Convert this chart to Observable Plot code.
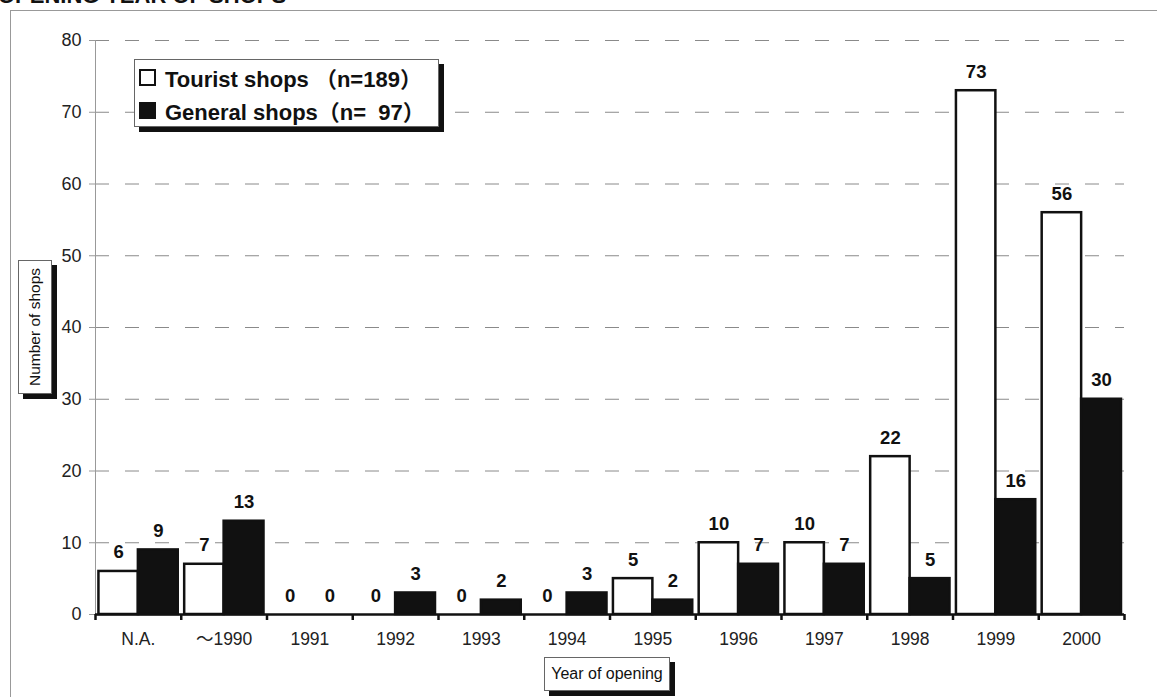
<!DOCTYPE html>
<html>
<head>
<meta charset="utf-8">
<script src="https://cdn.jsdelivr.net/npm/d3@7"></script>
<script src="https://cdn.jsdelivr.net/npm/@observablehq/plot@0.6"></script>
<style>
  body { margin: 0; background: #fff; font-family: "Liberation Sans", Arial, sans-serif; }
  #wrap { position: relative; width: 1157px; height: 697px; overflow: hidden; background: #fff; }
  #title { position: absolute; left: -2px; top: -17px; font: bold 22px "Liberation Sans", Arial, sans-serif; color: #111; }
  #frame { position: absolute; left: 10px; top: 10px; width: 1170px; height: 720px; border: 1px solid #999; box-sizing: border-box; }
  #chart { position: absolute; left: 0; top: 0; }
  .box { position: absolute; background: #fff; border: 1px solid #666; box-shadow: 5px 5px 0 #111; box-sizing: border-box; color: #111; }
  #legend { left: 134px; top: 59px; width: 305px; height: 68px; font: bold 22px "Liberation Sans", Arial, "Noto Sans CJK JP", sans-serif; }
  .item { position: absolute; left: 4px; height: 30px; display: flex; align-items: center; white-space: pre; }
  .sw { width: 17px; height: 17px; box-sizing: border-box; border: 2.5px solid #111; margin-right: 9px; }
  #ylab { left: 18px; top: 260px; width: 34px; height: 134px; font: 15.5px "Liberation Sans", Arial, sans-serif; }
  #ylab span { position: absolute; left: 50%; top: 50%; transform: translate(-50%, -50%) rotate(-90deg); white-space: nowrap; }
  #xlab { left: 544px; top: 657px; width: 126px; height: 34px; font: 16px "Liberation Sans", Arial, sans-serif; display: flex; align-items: center; justify-content: center; }
</style>
</head>
<body>
<div id="wrap">
  <div id="title">OPENING YEAR OF SHOPS</div>
  <div id="frame"></div>
  <div id="chart"></div>
  <div id="legend" class="box">
    <div class="item" style="top:2px"><div class="sw" style="background:#fff"></div><span id="lt"></span></div>
    <div class="item" style="top:35px"><div class="sw" style="background:#111"></div><span id="lg"></span></div>
  </div>
  <div id="ylab" class="box"><span>Number of shops</span></div>
  <div id="xlab" class="box">Year of opening</div>
</div>
<script>
const years = ["N.A.", "～1990", "1991", "1992", "1993", "1994", "1995", "1996", "1997", "1998", "1999", "2000"];
const tourist = [6, 7, 0, 0, 0, 0, 5, 10, 10, 22, 73, 56];
const general = [9, 13, 0, 3, 2, 3, 2, 7, 7, 5, 16, 30];
const seriesNames = ["Tourist shops", "General shops"];
const seriesN = [189, 97];
const yTicks = [0, 10, 20, 30, 40, 50, 60, 70, 80];

document.getElementById("lt").textContent = seriesNames[0] + " （n=" + seriesN[0] + "）";
document.getElementById("lg").textContent = seriesNames[1] + "（n=  " + seriesN[1] + "）";

const rows = [];
years.forEach((yr, i) => {
  rows.push({i, year: yr, series: seriesNames[0], value: tourist[i], x1: i + 0.04, x2: i + 0.5});
  rows.push({i, year: yr, series: seriesNames[1], value: general[i], x1: i + 0.5, x2: i + 0.965});
});

const centers = years.map((_, i) => i + 0.5);
const bounds = d3.range(years.length + 1);

const chart = Plot.plot({
  width: 1157,
  height: 697,
  marginLeft: 95,
  marginRight: 33,
  marginTop: 40,
  marginBottom: 83,
  style: {fontFamily: "'Liberation Sans', Arial, 'Noto Sans CJK JP', sans-serif", color: "#111", background: "transparent"},
  x: {type: "linear", domain: [0, years.length], axis: null},
  y: {domain: [0, 80], axis: null},
  marks: [
    Plot.gridY(yTicks.filter(d => d > 0), {stroke: "#8a8a8a", strokeOpacity: 1, strokeWidth: 1, strokeDasharray: "14,16"}),
    Plot.ruleX([0], {y1: 0, y2: 80, stroke: "#999", strokeWidth: 1}),
    Plot.axisY(yTicks, {tickSize: 6, tickPadding: 8, stroke: "#999", fontSize: 18, fill: "#222", label: null}),
    Plot.rectY(rows, {
      x1: "x1", x2: "x2", y: "value",
      fill: d => d.series === seriesNames[0] ? "#fff" : "#111",
      stroke: "#111", strokeWidth: 2.5
    }),
    Plot.ruleY([0], {x1: 0, x2: years.length, stroke: "#111", strokeWidth: 2.5}),
    Plot.axisX(bounds, {anchor: "bottom", tickSize: 6, tickFormat: () => "", stroke: "#111", strokeWidth: 2.5, label: null}),
    Plot.axisX(centers, {anchor: "bottom", tickSize: 0, tickPadding: 18, tickFormat: v => years[Math.floor(v)], fontSize: 17.5, fill: "#222", label: null}),
    Plot.text(rows, {
      x: d => (d.x1 + d.x2) / 2, y: "value", text: d => String(d.value),
      lineAnchor: "bottom", dy: -13, fontSize: 18.5, fontWeight: "bold", fill: "#111"
    })
  ]
});
document.getElementById("chart").appendChild(chart);
</script>
</body>
</html>
